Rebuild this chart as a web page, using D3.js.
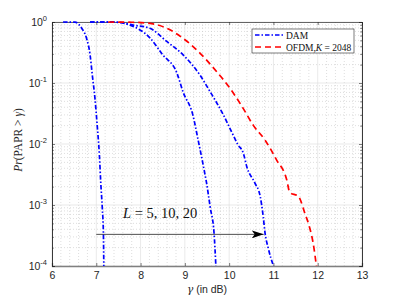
<!DOCTYPE html>
<html><head><meta charset="utf-8">
<script src="https://cdn.jsdelivr.net/npm/d3@7"></script>
<style>body{margin:0;background:#fff}svg{display:block}</style>
</head><body>
<svg id="c" width="399" height="299"></svg>
<script>
// ---- data ----
const gammaL5 = [6.25, 6.52, 6.67, 6.78, 6.86, 6.91, 6.97, 7.02, 7.07, 7.10, 7.135, 7.16, 7.17];
const probL5  = [1, 0.995, 0.79, 0.54, 0.29, 0.135, 0.056, 0.0205, 0.0066, 0.0024, 0.0009, 0.00036, 0.0001];
const gammaL10 = [6.86, 7.2, 7.47, 7.76, 8.21, 8.5, 8.82, 8.96, 9.18, 9.30, 9.45, 9.49, 9.57, 9.66, 9.70];
const probL10  = [1, 1, 0.99, 0.89, 0.55, 0.29, 0.146, 0.071, 0.03, 0.0116, 0.0033, 0.0023, 0.00094, 0.00034, 0.0001];
const gammaL20 = [6.86, 7.2, 7.47, 7.83, 8.21, 8.59, 8.96, 9.34, 9.57, 9.87, 10.09, 10.2, 10.32, 10.40, 10.58, 10.70, 10.77, 10.81, 10.88, 11.0];
const probL20  = [1, 1, 0.99, 0.89, 0.79, 0.48, 0.29, 0.135, 0.072, 0.030, 0.014, 0.0097, 0.0071, 0.0042, 0.0023, 0.0014, 0.00064, 0.00035, 0.0002, 0.0001];
const gammaOFDM = [7.27, 7.8, 8.21, 8.59, 8.96, 9.34, 9.72, 10.02, 10.32, 10.55, 10.81, 11.07, 11.3, 11.37, 11.56, 11.71, 11.82, 11.9, 11.97];
const probOFDM  = [1, 0.99, 0.95, 0.79, 0.54, 0.31, 0.153, 0.082, 0.038, 0.020, 0.0116, 0.0055, 0.0026, 0.0016, 0.0014, 0.00073, 0.00042, 0.00023, 0.0001];
const xTicks = [6, 7, 8, 9, 10, 11, 12, 13];
const yTickExp = [0, -1, -2, -3, -4];
const legendLabels = ["DAM", "OFDM"];
const arrowGamma = [7.0, 10.78];
const arrowProb = 0.00033;

// ---- layout ----
const svg = d3.select("#c");
const PL = 52, PR = 362, PT = 22, PB = 266;
const x = d3.scaleLinear().domain([6, 13]).range([PL, PR]);
const y = d3.scaleLog().domain([1e-4, 1]).range([PB, PT]);
const axisCol = "#262626";

// grid
const g = svg.append("g");
const xMinor = [];
for (let v = 6; v < 13; v++) for (let k = 1; k < 5; k++) xMinor.push(v + k * 0.2);
g.selectAll(".xm").data(xMinor).enter().append("line")
  .attr("x1", d => x(d)).attr("x2", d => x(d)).attr("y1", PT).attr("y2", PB)
  .attr("stroke", "#c8c8c8").attr("stroke-width", 0.6).attr("stroke-dasharray", "1,2");
const yMinor = [];
for (let e = -4; e < 0; e++) for (let m = 2; m <= 9; m++) yMinor.push(m * Math.pow(10, e));
g.selectAll(".ym").data(yMinor).enter().append("line")
  .attr("x1", PL).attr("x2", PR).attr("y1", d => y(d)).attr("y2", d => y(d))
  .attr("stroke", "#c8c8c8").attr("stroke-width", 0.6).attr("stroke-dasharray", "1,2");
g.selectAll(".xg").data(xTicks).enter().append("line")
  .attr("x1", d => x(d)).attr("x2", d => x(d)).attr("y1", PT).attr("y2", PB)
  .attr("stroke", "#e0e0e0").attr("stroke-width", 0.7);
g.selectAll(".yg").data(yTickExp).enter().append("line")
  .attr("x1", PL).attr("x2", PR).attr("y1", d => y(Math.pow(10, d))).attr("y2", d => y(Math.pow(10, d)))
  .attr("stroke", "#e0e0e0").attr("stroke-width", 0.7);

// axes (MATLAB-style inward ticks on all sides)
const ax = svg.append("g").attr("font-family", "Liberation Sans, Arial, sans-serif");
const axB = d3.axisBottom(x).tickValues(xTicks).tickSize(-3).tickPadding(6).tickFormat(d3.format("d"));
const axT = d3.axisTop(x).tickValues(xTicks).tickSize(-3).tickFormat("");
const gB = ax.append("g").attr("transform", `translate(0,${PB})`).call(axB);
ax.append("g").attr("transform", `translate(0,${PT})`).call(axT);
const yMaj = yTickExp.map(e => Math.pow(10, e));
ax.append("g").attr("transform", `translate(${PL},0)`).call(d3.axisLeft(y).tickValues(yMaj).tickSize(-3).tickFormat(""));
ax.append("g").attr("transform", `translate(${PR},0)`).call(d3.axisRight(y).tickValues(yMaj).tickSize(-3).tickFormat(""));
ax.append("g").attr("transform", `translate(${PL},0)`).call(d3.axisLeft(y).tickValues(yMinor).tickSize(-1.8).tickFormat(""));
ax.append("g").attr("transform", `translate(${PR},0)`).call(d3.axisRight(y).tickValues(yMinor).tickSize(-1.8).tickFormat(""));
ax.selectAll("path.domain").attr("stroke", axisCol).attr("stroke-width", 0.7);
ax.selectAll(".tick line").attr("stroke", axisCol).attr("stroke-width", 0.6);
ax.selectAll(".tick text").attr("fill", axisCol).attr("font-size", 10.5);
gB.select("path.domain").attr("stroke-width", 1.3).attr("stroke", "#808080");

// y tick labels 10^k
const yl = svg.append("g").attr("font-family", "Liberation Sans, Arial, sans-serif").attr("fill", axisCol);
yTickExp.forEach(e => {
  const t = yl.append("text").attr("x", 47).attr("y", y(Math.pow(10, e)) + 4).attr("text-anchor", "end").attr("font-size", 10.5);
  t.append("tspan").text("10");
  t.append("tspan").attr("dy", -5).attr("font-size", 7.5).text(String(e));
});

// axis labels
const xl = svg.append("text").attr("x", 207).attr("y", 293).attr("text-anchor", "middle")
  .attr("font-family", "Liberation Sans, Arial, sans-serif").attr("font-size", 10.5).attr("fill", axisCol);
xl.append("tspan").attr("font-family", "DejaVu Serif, serif").attr("font-style", "italic").text("γ");
xl.append("tspan").text(" (in dB)");
const ylab = svg.append("text").attr("transform", "translate(22,140) rotate(-90)").attr("text-anchor", "middle")
  .attr("font-family", "Liberation Serif, Times New Roman, serif").attr("font-size", 11.5).attr("fill", axisCol);
ylab.append("tspan").attr("font-style", "italic").text("Pr");
ylab.append("tspan").text("(PAPR > ");
ylab.append("tspan").attr("font-style", "italic").text("γ");
ylab.append("tspan").text(")");

// curves
const lineX = d3.line().x(d => x(d[0])).y(d => y(d[1])).curve(d3.curveMonotoneX);
svg.append("clipPath").attr("id", "clp").append("rect").attr("x", PL).attr("y", PT - 2).attr("width", PR - PL).attr("height", PB - PT + 2);
const cg = svg.append("g").attr("clip-path", "url(#clp)");
const dashDot = "4.5,2,1.5,2";
[[gammaL5, probL5], [gammaL10, probL10], [gammaL20, probL20]].forEach(([gx, py]) => {
  cg.append("path").datum(d3.zip(gx, py)).attr("d", lineX).attr("fill", "none")
    .attr("stroke", "#0000ff").attr("stroke-width", 1.7).attr("stroke-dasharray", dashDot);
});
cg.append("path").datum(d3.zip(gammaOFDM, probOFDM)).attr("d", lineX).attr("fill", "none")
  .attr("stroke", "#ff0000").attr("stroke-width", 1.7).attr("stroke-dasharray", "6,4");

// arrow
svg.append("defs").append("marker").attr("id", "ah").attr("viewBox", "0 0 12 8").attr("refX", 12).attr("refY", 4)
  .attr("markerWidth", 12).attr("markerHeight", 8).attr("markerUnits", "userSpaceOnUse").attr("orient", "auto")
  .append("path").attr("d", "M0,0 L12,4 L0,8 L3,4 Z").attr("fill", "#000");
svg.append("line").attr("x1", x(arrowGamma[0])).attr("x2", x(arrowGamma[1]))
  .attr("y1", y(arrowProb)).attr("y2", y(arrowProb)).attr("stroke", "#222").attr("stroke-width", 0.8)
  .attr("marker-end", "url(#ah)");

// annotation
const an = svg.append("text").attr("x", 123).attr("y", 218).attr("font-family", "Liberation Serif, Times New Roman, serif")
  .attr("font-size", 14.5).attr("fill", "#111");
an.append("tspan").attr("font-style", "italic").text("L");
an.append("tspan").text(" = 5, 10, 20");

// legend
const lg = svg.append("g");
lg.append("rect").attr("x", 252).attr("y", 29).attr("width", 102).attr("height", 24)
  .attr("fill", "#fff").attr("stroke", axisCol).attr("stroke-width", 0.6);
lg.append("line").attr("x1", 255).attr("x2", 285).attr("y1", 35).attr("y2", 35)
  .attr("stroke", "#0000ff").attr("stroke-width", 1.7).attr("stroke-dasharray", dashDot);
lg.append("line").attr("x1", 255).attr("x2", 285).attr("y1", 47).attr("y2", 47)
  .attr("stroke", "#ff0000").attr("stroke-width", 1.7).attr("stroke-dasharray", "6,4");
lg.append("text").attr("x", 286).attr("y", 38.5).attr("font-family", "Liberation Serif, Times New Roman, serif")
  .attr("font-size", 9.5).attr("fill", "#111").text(legendLabels[0]);
const l2 = lg.append("text").attr("x", 286).attr("y", 50.5).attr("font-family", "Liberation Serif, Times New Roman, serif")
  .attr("font-size", 9.5).attr("fill", "#111");
l2.append("tspan").text(legendLabels[1] + ",");
l2.append("tspan").attr("font-style", "italic").text("K");
l2.append("tspan").text(" = 2048");
</script>
</body></html>
